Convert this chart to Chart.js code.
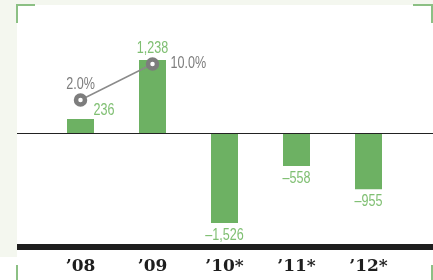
<!DOCTYPE html>
<html>
<head>
<meta charset="utf-8">
<script src="https://cdn.jsdelivr.net/npm/chart.js@4/dist/chart.umd.min.js"></script>
<style>
  html, body { margin: 0; padding: 0; background: #fff; }
  canvas { display: block; }
</style>
</head>
<body>
<canvas id="chart" width="433" height="280"></canvas>
<script>
// data
const years = ['\u201908', '\u201909', '\u201910*', '\u201911*', '\u201912*'];
const amounts = [236, 1238, -1526, -558, -955];
const growth = [2.0, 10.0, null, null, null];

const barGreen = '#6db163';
const labelGreen = '#7fbf72';
const grey = '#7d7d7d';

function fmt(v) {
  const s = Math.abs(v).toLocaleString('en-US');
  return v < 0 ? '\u2013' + s : s;
}

// condensed look: draw a normal sans squeezed horizontally
function narrowText(ctx, txt, x, y, align) {
  const sx = 0.74;
  const w = ctx.measureText(txt).width * sx;
  let left = x;
  if (align === 'center') left = x - w / 2;
  ctx.save();
  ctx.translate(left, y);
  ctx.scale(sx, 1);
  ctx.textAlign = 'left';
  ctx.fillText(txt, 0, 0);
  ctx.restore();
}

// frame, strips, zero line and the thick base bar
const framePlugin = {
  id: 'frame',
  beforeDraw(chart) {
    const ctx = chart.ctx;
    const W = chart.width;
    ctx.save();
    ctx.fillStyle = '#f4f7ef';
    ctx.fillRect(0, 0, W, 5);
    ctx.fillRect(0, 0, 17, 257);
    ctx.strokeStyle = '#8cc084';
    ctx.lineWidth = 2;
    ctx.beginPath();
    ctx.moveTo(35, 5); ctx.lineTo(17, 5); ctx.lineTo(17, 23);
    ctx.moveTo(413, 5); ctx.lineTo(432, 5); ctx.lineTo(432, 23);
    ctx.moveTo(17, 265); ctx.lineTo(17, 280);
    ctx.moveTo(432, 265); ctx.lineTo(432, 280);
    ctx.stroke();
    ctx.restore();
  },
  afterDatasetsDraw(chart) {
    const ctx = chart.ctx;
    const y0 = Math.round(chart.scales.y.getPixelForValue(0)) + 0.5;
    ctx.save();
    ctx.strokeStyle = '#222';
    ctx.lineWidth = 1;
    ctx.beginPath();
    ctx.moveTo(17, y0); ctx.lineTo(chart.width, y0);
    ctx.stroke();
    ctx.fillStyle = '#1e1e1e';
    ctx.fillRect(17, chart.chartArea.bottom - 6, chart.width - 17, 6);
    ctx.restore();
  }
};

const labelPlugin = {
  id: 'valueLabels',
  afterDraw(chart) {
    const ctx = chart.ctx;
    ctx.save();
    ctx.font = '17px "Liberation Sans", Arial, sans-serif';
    ctx.textBaseline = 'middle';
    const bars = chart.getDatasetMeta(1).data;
    bars.forEach((bar, i) => {
      const v = amounts[i];
      ctx.fillStyle = labelGreen;
      if (v >= 0 && growth[i] !== null && i < growth.length - 1 && growth[i + 1] !== null) {
        narrowText(ctx, fmt(v), bar.x + 13, bar.y - 9, 'left');
      } else {
        narrowText(ctx, fmt(v), bar.x, v >= 0 ? bar.y - 12 : bar.y + 12, 'center');
      }
    });
    const pts = chart.getDatasetMeta(0).data;
    ctx.fillStyle = grey;
    pts.forEach((p, i) => {
      if (growth[i] === null) return;
      const txt = growth[i].toFixed(1) + '%';
      if (i + 1 < growth.length && growth[i + 1] !== null) {
        narrowText(ctx, txt, p.x, p.y - 16, 'center');
      } else {
        narrowText(ctx, txt, p.x + 18, p.y - 1, 'left');
      }
    });
    ctx.restore();
  }
};

new Chart(document.getElementById('chart'), {
  type: 'bar',
  data: {
    labels: years,
    datasets: [
      {
        type: 'line',
        data: growth,
        yAxisID: 'y2',
        borderColor: '#8a8a8a',
        borderWidth: 1.5,
        pointRadius: 4.5,
        pointBorderWidth: 4.5,
        pointBackgroundColor: '#fff',
        pointBorderColor: grey,
        spanGaps: false,
        order: 0
      },
      {
        type: 'bar',
        data: amounts,
        yAxisID: 'y',
        backgroundColor: barGreen,
        barPercentage: 0.75,
        categoryPercentage: 0.5,
        order: 1
      }
    ]
  },
  options: {
    responsive: false,
    devicePixelRatio: 1,
    animation: false,
    layout: { padding: { left: 44.5, right: 28.5, top: 10, bottom: 0 } },
    plugins: { legend: { display: false }, tooltip: { enabled: false } },
    scales: {
      x: {
        grid: { display: false, drawTicks: false },
        border: { display: false },
        ticks: {
          color: '#1e1e1e',
          padding: 6,
          font: { family: '"DejaVu Serif", "Liberation Serif", serif', size: 17, weight: 'bold' }
        },
        afterFit(s) { s.height = 30; }
      },
      y: { display: false, min: -1983, max: 2085 },
      y2: { display: false, min: -31.33, max: 22 }
    }
  },
  plugins: [framePlugin, labelPlugin]
});
</script>
</body>
</html>
